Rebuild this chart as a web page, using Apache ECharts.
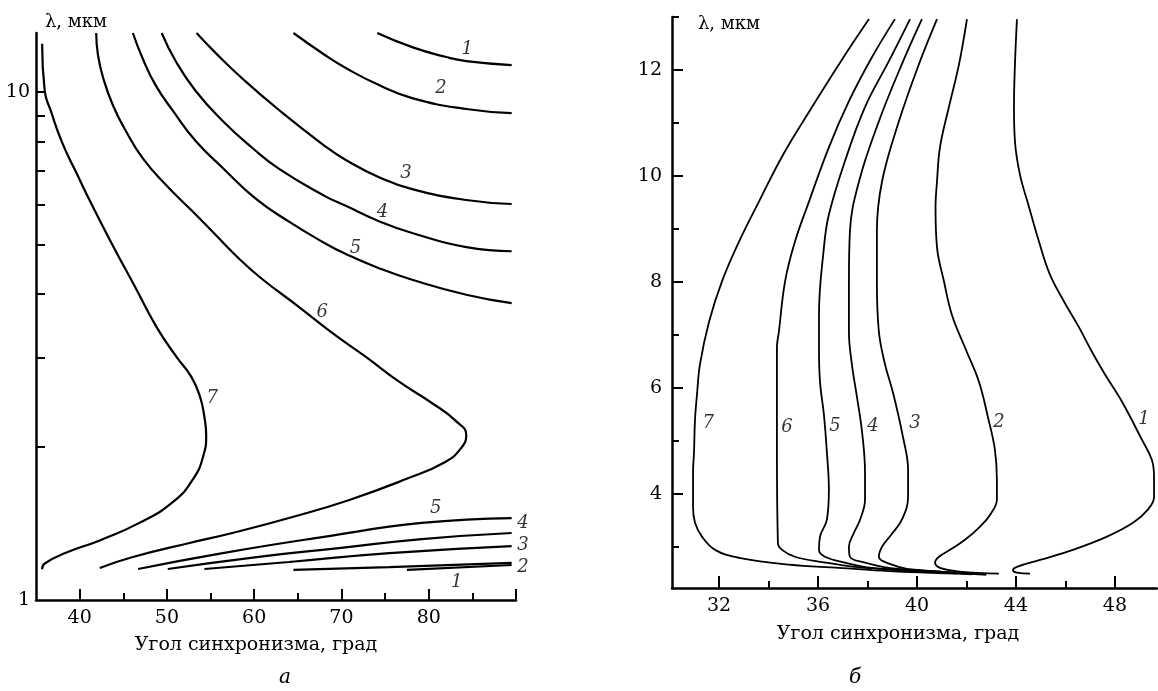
<!DOCTYPE html>
<html>
<head>
<meta charset="utf-8">
<title>Угол синхронизма</title>
<script src="https://cdn.jsdelivr.net/npm/echarts@6/dist/echarts.min.js"></script>
<style>
  html, body { margin: 0; padding: 0; background: #fff; }
  #main { width: 1158px; height: 691px; }
</style>
</head>
<body>
<div id="main"></div>
<script>
// panel "а": wavelength (log) vs angle; curves 1-5 have an upper and a lower branch
const a1Up = [[74.1, 13.07], [78.1, 12.26], [82.0, 11.72], [84.3, 11.51], [89.5, 11.30]];
const a2Up = [[64.5, 13.07], [68.1, 11.83], [70.5, 11.15], [74.3, 10.32], [78.1, 9.73], [84.3, 9.26], [89.5, 9.09]];
const a3Up = [[53.4, 13.07], [55.6, 11.93], [58.7, 10.61], [62.7, 9.26], [68.1, 7.83], [70.5, 7.35], [74.3, 6.8], [78.1, 6.44], [84.3, 6.13], [89.5, 6.02]];
const a4Up = [[49.4, 13.07], [51.0, 11.51], [53.3, 10.05], [56.4, 8.77], [59.8, 7.76], [62.9, 7.05], [68.1, 6.24], [70.5, 5.97], [74.3, 5.57], [78.1, 5.28], [84.3, 4.95], [89.5, 4.86]];
const a5Up = [[46.1, 13.07], [47.2, 11.67], [48.7, 10.32], [50.7, 9.18], [53.3, 8.01], [56.4, 7.09], [60.1, 6.18], [63.9, 5.57], [68.1, 5.04], [70.5, 4.80], [74.3, 4.50], [78.1, 4.27], [84.3, 3.99], [89.5, 3.84]];

const a1Low = [[77.5, 1.146], [89.5, 1.172]];
const a2Low = [[64.5, 1.146], [75.5, 1.161], [89.5, 1.183]];
const a3Low = [[54.3, 1.151], [64.0, 1.188], [75.5, 1.237], [89.5, 1.277]];
const a4Low = [[50.1, 1.151], [60.3, 1.215], [69.7, 1.265], [79.2, 1.318], [89.5, 1.355]];
const a5Low = [[46.7, 1.151], [56.4, 1.237], [67.8, 1.33], [79.2, 1.418], [89.5, 1.45]];

const a6 = [[41.9, 13.07], [42.1, 11.83], [42.7, 10.66], [43.8, 9.43], [45.3, 8.38], [47.2, 7.42], [49.9, 6.56],
  [52.9, 5.83], [55.6, 5.23], [58.1, 4.73], [60.8, 4.30], [65.0, 3.79], [68.9, 3.36], [72.8, 3.01], [76.6, 2.69],
  [80.4, 2.44], [83.0, 2.26], [84.3, 2.11], [83.7, 1.99], [81.9, 1.87], [77.4, 1.73], [70.9, 1.574],
  [64.4, 1.457], [57.5, 1.355], [52.6, 1.295], [46.1, 1.215], [42.3, 1.156]];
const a7 = [[35.7, 12.45], [36.0, 10.05], [36.7, 9.18], [38.0, 7.95], [39.6, 6.95], [41.5, 5.95], [43.9, 4.95],
  [46.3, 4.15], [48.8, 3.45], [51.1, 3.01], [52.8, 2.75], [53.8, 2.51], [54.3, 2.29], [54.5, 2.11], [54.2, 1.93],
  [53.0, 1.73], [50.7, 1.56], [46.9, 1.42], [42.3, 1.31], [38.5, 1.24], [36.0, 1.18], [35.7, 1.15]];

const aLabels = [[84.4, 12.15, '1'], [81.4, 10.18, '2'], [77.4, 6.93, '3'], [74.7, 5.80, '4'], [71.6, 4.93, '5'],
  [67.8, 3.69, '6'], [55.2, 2.50, '7'], [80.8, 1.517, '5'], [90.8, 1.418, '4'], [90.8, 1.283, '3'],
  [90.8, 1.161, '2'], [83.2, 1.085, '1']];

// panel "б": wavelength (linear) vs angle
const b1 = [[44.04, 12.96], [43.96, 12.11], [43.92, 11.30], [43.96, 10.65], [44.16, 10.03], [44.53, 9.41], [44.93, 8.76],
  [45.37, 8.14], [45.94, 7.63], [46.55, 7.14], [47.07, 6.68], [47.6, 6.25], [48.28, 5.74], [49.09, 5.02], [49.49, 4.64],
  [49.58, 4.32], [49.58, 3.94], [49.33, 3.70], [48.73, 3.45], [47.68, 3.19], [46.3, 2.94], [44.97, 2.75], [44.04, 2.62],
  [43.88, 2.56], [44.04, 2.51], [44.57, 2.49]];
const b2 = [[42.02, 12.96], [41.7, 12.11], [41.29, 11.30], [40.93, 10.54], [40.81, 9.90], [40.75, 9.40], [40.81, 8.65],
  [41.09, 8.01], [41.41, 7.38], [41.94, 6.76], [42.5, 6.12], [42.87, 5.44], [43.15, 4.83], [43.23, 4.26], [43.23, 3.89],
  [42.95, 3.60], [42.55, 3.38], [41.94, 3.13], [41.33, 2.94], [40.89, 2.81], [40.73, 2.70], [40.93, 2.60], [41.74, 2.53],
  [43.31, 2.49]];
const b3 = [[40.81, 12.96], [40.08, 12.11], [39.27, 11.03], [38.59, 9.90], [38.38, 8.95], [38.38, 8.01], [38.46, 7.06],
  [38.71, 6.44], [39.03, 5.91], [39.43, 5.08], [39.64, 4.45], [39.64, 3.94], [39.39, 3.51], [38.95, 3.22], [38.59, 3.0],
  [38.46, 2.81], [38.99, 2.66], [39.6, 2.58], [41.0, 2.53], [42.8, 2.47]];
const b4 = [[40.2, 12.96], [39.39, 12.11], [38.46, 11.03], [37.66, 9.90], [37.29, 8.95], [37.25, 8.01], [37.25, 7.06],
  [37.37, 6.44], [37.58, 5.81], [37.78, 5.17], [37.9, 4.40], [37.9, 3.89], [37.7, 3.51], [37.45, 3.26], [37.25, 3.0],
  [37.29, 2.81], [37.9, 2.70], [38.87, 2.60], [40.5, 2.54], [42.5, 2.48]];
const b5 = [[39.72, 12.96], [38.87, 12.17], [37.9, 11.30], [37.09, 10.28], [36.44, 9.27], [36.24, 8.65], [36.04, 7.38],
  [36.04, 6.76], [36.08, 6.12], [36.24, 5.49], [36.36, 4.78], [36.44, 4.08], [36.36, 3.51], [36.08, 3.19], [36.04, 2.94],
  [36.28, 2.81], [37.09, 2.70], [38.18, 2.60], [40.0, 2.54], [42.2, 2.48]];
const b6 = [[39.11, 12.96], [38.18, 12.24], [37.25, 11.41], [36.44, 10.54], [35.64, 9.52], [35.07, 8.76], [34.67, 8.01],
  [34.42, 7.06], [34.34, 6.76], [34.34, 4.93], [34.38, 3.07], [34.55, 2.94], [35.07, 2.81], [36.16, 2.71], [37.49, 2.62],
  [39.31, 2.56], [41.9, 2.49]];
const b7 = [[38.06, 12.96], [36.85, 12.11], [35.76, 11.30], [34.6, 10.41], [33.62, 9.52], [32.81, 8.76], [32.12, 8.01],
  [31.6, 7.25], [31.23, 6.44], [31.11, 5.87], [31.03, 5.40], [30.99, 4.79], [30.95, 4.40], [30.95, 3.75], [31.03, 3.45],
  [31.31, 3.19], [31.84, 2.94], [32.81, 2.79], [34.83, 2.66], [36.85, 2.60], [38.87, 2.54], [41.6, 2.49]];

const bLabels = [[31.56, 5.32, '7'], [34.75, 5.25, '6'], [36.69, 5.27, '5'], [38.22, 5.27, '4'], [39.92, 5.32, '3'],
  [43.31, 5.34, '2'], [49.17, 5.40, '1']];

// ticks
const aXLabels = [40, 50, 60, 70, 80];
const aXMajor = [40, 50, 60, 70, 80, 90];
const aXMinor = [45, 55, 65, 75, 85];
const aYLabels = [1, 10];
const aYTicks = [2, 3, 4, 5, 6, 7, 8, 9, 10];
const bXMajor = [32, 36, 40, 44, 48];
const bXMinor = [34, 38, 42, 46];
const bYMajor = [4, 6, 8, 10, 12];
const bYMinor = [3, 5, 7, 9, 11, 13];

const SERIF = 'DejaVu Serif';
const black = '#000';

function mainAxis(grid, type, min, max, ticks, labels, tickLen, margin, position) {
    return {
        gridIndex: grid, type: type, min: min, max: max, position: position,
        axisLine: {show: true, onZero: false, lineStyle: {color: black, width: 2.5}},
        axisTick: {show: true, inside: true, length: tickLen, customValues: ticks, lineStyle: {color: black, width: 2}},
        axisLabel: {show: true, customValues: labels, color: black, fontFamily: SERIF, fontSize: 19, margin: margin},
        splitLine: {show: false}
    };
}

function minorAxis(grid, min, max, ticks, position) {
    return {
        gridIndex: grid, type: 'value', min: min, max: max, position: position,
        axisLine: {show: false, onZero: false},
        axisTick: {show: true, inside: true, length: 7, customValues: ticks, lineStyle: {color: black, width: 2}},
        axisLabel: {show: false},
        splitLine: {show: false}
    };
}

function curve(data, xi, yi, width, smooth) {
    return {
        type: 'line', xAxisIndex: xi, yAxisIndex: yi, data: data,
        showSymbol: false, smooth: smooth, silent: true,
        lineStyle: {color: black, width: width}
    };
}

function labels(data, xi, yi) {
    return {
        type: 'scatter', xAxisIndex: xi, yAxisIndex: yi, data: data, clip: false, silent: true,
        symbolSize: 1, itemStyle: {color: 'rgba(0,0,0,0)'},
        label: {
            show: true, position: 'inside', formatter: p => p.data[2],
            color: black, fontFamily: SERIF, fontStyle: 'italic', fontSize: 18
        }
    };
}

const series = [];
[a1Up, a2Up, a3Up, a4Up, a5Up, a1Low, a2Low, a3Low, a4Low, a5Low, a6, a7].forEach(d => {
    series.push(curve(d, 0, 0, 2.2, 0.5));
});
[b1, b2, b3, b4, b5, b6, b7].forEach(d => {
    series.push(curve(d, 2, 1, 1.8, 0.4));
});
series.push(labels(aLabels, 0, 0));
series.push(labels(bLabels, 2, 1));

function text(x, y, str, size, italic) {
    return {
        type: 'text', x: x, y: y, silent: true,
        style: {
            text: str, fill: black, align: 'center', verticalAlign: 'middle',
            font: (italic ? 'italic ' : '') + size + 'px "' + SERIF + '"'
        }
    };
}

const chart = echarts.init(document.getElementById('main'));
chart.setOption({
    animation: false,
    backgroundColor: '#fff',
    grid: [
        {left: 36, top: 33, width: 480, height: 567, containLabel: false, outerBoundsMode: 'none'},
        {left: 672, top: 17, width: 485, height: 571, containLabel: false, outerBoundsMode: 'none'}
    ],
    xAxis: [
        mainAxis(0, 'value', 35, 90, aXMajor, aXLabels, 11, 9, 'bottom'),
        minorAxis(0, 35, 90, aXMinor, 'bottom'),
        mainAxis(1, 'value', 30.1, 49.7, bXMajor, bXMajor, 12, 9, 'bottom'),
        minorAxis(1, 30.1, 49.7, bXMinor, 'bottom')
    ],
    yAxis: [
        Object.assign(mainAxis(0, 'log', 1, 13.07, aYTicks, aYLabels, 9, 6, 'left'), {logBase: 10}),
        mainAxis(1, 'value', 2.22, 13, bYMajor, bYMajor, 11, 10, 'left'),
        minorAxis(1, 2.22, 13, bYMinor, 'left')
    ],
    graphic: [
        text(76, 22, 'λ, мкм', 18, false),
        text(729, 24, 'λ, мкм', 18, false),
        text(256, 645, 'Угол синхронизма, град', 19, false),
        text(898, 634, 'Угол синхронизма, град', 19, false),
        text(285, 678, 'а', 20, true),
        text(855, 678, 'б', 20, true)
    ],
    series: series
});
</script>
</body>
</html>
